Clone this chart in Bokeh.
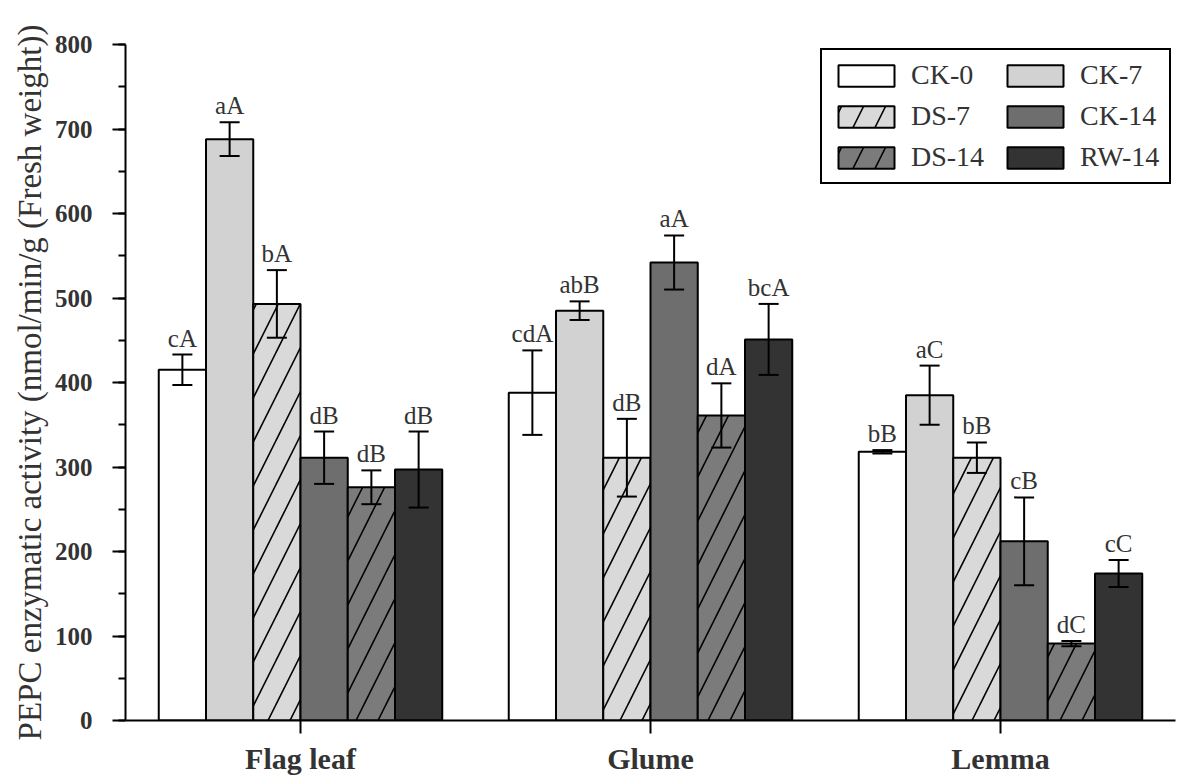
from bokeh.plotting import figure
from bokeh.models import (FactorRange, Range1d, ColumnDataSource, Whisker, TeeHead,
                          SingleIntervalTicker)
from bokeh.transform import dodge
from bokeh.core.properties import value
from bokeh.embed import file_html
from bokeh.resources import INLINE

categories = ["Flag leaf", "Glume", "Lemma"]
treatments = ["CK-0", "CK-7", "DS-7", "CK-14", "DS-14", "RW-14"]

ck0 = [415, 388, 318]
ck7 = [688, 485, 385]
ds7 = [493, 311, 311]
ck14 = [311, 542, 212]
ds14 = [276, 361, 91]
rw14 = [297, 451, 174]

ck0_err = [18, 50, 2]
ck7_err = [20, 11, 35]
ds7_err = [40, 46, 18]
ck14_err = [31, 32, 52]
ds14_err = [20, 38, 3]
rw14_err = [45, 42, 16]

ck0_lab = ["cA", "cdA", "bB"]
ck7_lab = ["aA", "abB", "aC"]
ds7_lab = ["bA", "dB", "bB"]
ck14_lab = ["dB", "aA", "cB"]
ds14_lab = ["dB", "dA", "dC"]
rw14_lab = ["dB", "bcA", "cC"]

values = [ck0, ck7, ds7, ck14, ds14, rw14]
errors = [ck0_err, ck7_err, ds7_err, ck14_err, ds14_err, rw14_err]
labels = [ck0_lab, ck7_lab, ds7_lab, ck14_lab, ds14_lab, rw14_lab]

fills = ["#ffffff", "#d2d2d2", "#d9d9d9", "#6e6e6e", "#7b7b7b", "#333333"]
hatches = [None, None, "/", None, "/", None]

SERIF = "Liberation Serif"

p = figure(x_range=FactorRange(*categories, range_padding=0), y_range=Range1d(0, 800),
           width=1178, height=778, output_backend="svg", toolbar_location=None,
           min_border_left=125, min_border_right=3, min_border_top=44, min_border_bottom=58)
p.outline_line_color = None
p.xgrid.grid_line_color = None
p.ygrid.grid_line_color = None
p.background_fill_color = "white"

bw = 0.135
for i, name in enumerate(treatments):
    off = (i - 2.5) * bw
    src = ColumnDataSource(dict(
        cat=categories,
        val=values[i],
        upper=[v + e for v, e in zip(values[i], errors[i])],
        lower=[v - e for v, e in zip(values[i], errors[i])],
        lab=labels[i],
    ))
    kw = {}
    if hatches[i]:
        kw = dict(hatch_pattern=hatches[i], hatch_scale=44, hatch_color="black", hatch_weight=1.6)
    p.vbar(x=dodge("cat", off, range=p.x_range), top="val", width=bw, source=src,
           fill_color=fills[i], line_color="black", line_width=2, legend_label=name, **kw)
    w = Whisker(source=src, base=dodge("cat", off, range=p.x_range), upper="upper", lower="lower",
                line_width=2, line_color="black", level="annotation",
                upper_head=TeeHead(size=20, line_width=2, line_color="black"),
                lower_head=TeeHead(size=20, line_width=2, line_color="black"))
    p.add_layout(w)
    p.text(x=dodge("cat", off, range=p.x_range), y="upper", text="lab", source=src,
           text_align="center", text_baseline="bottom", y_offset=-3,
           text_font=value(SERIF), text_font_size="25px", text_color="#333333")

# axes
p.yaxis.ticker = SingleIntervalTicker(interval=100, num_minor_ticks=2)
for ax in (p.xaxis[0], p.yaxis[0]):
    ax.axis_line_width = 2
    ax.axis_line_color = "black"
    ax.major_tick_line_width = 2
    ax.major_tick_line_color = "black"
    ax.major_tick_in = 0
    ax.major_tick_out = 13
    ax.major_label_text_font = SERIF
    ax.major_label_text_font_style = "bold"
    ax.major_label_text_color = "#333333"
p.yaxis.minor_tick_line_width = 2
p.yaxis.minor_tick_line_color = "black"
p.yaxis.minor_tick_in = 0
p.yaxis.minor_tick_out = 7
p.yaxis.major_label_text_font_size = "25px"
p.yaxis.major_label_standoff = 20
p.xaxis.major_label_text_font_size = "30px"
p.xaxis.major_label_standoff = 8
p.yaxis.axis_label = "PEPC enzymatic activity (nmol/min/g (Fresh weight))"
p.yaxis.axis_label_text_font = SERIF
p.yaxis.axis_label_text_font_style = "normal"
p.yaxis.axis_label_text_font_size = "33px"
p.yaxis.axis_label_text_color = "#333333"
p.yaxis.axis_label_standoff = 4

leg = p.legend[0]
it = list(leg.items)
leg.items = [it[0], it[2], it[4], it[1], it[3], it[5]]
leg.location = "top_right"
leg.ncols = 2
leg.margin = 4
leg.padding = 9
leg.spacing = 9
leg.glyph_width = 70
leg.glyph_height = 27
leg.label_standoff = 10
leg.label_width = 80
leg.label_text_font = SERIF
leg.label_text_font_size = "28px"
leg.label_text_color = "#333333"
leg.border_line_color = "black"
leg.border_line_width = 2
leg.border_line_alpha = 1
leg.background_fill_alpha = 1

open("out.html", "w").write(file_html(p, INLINE))
